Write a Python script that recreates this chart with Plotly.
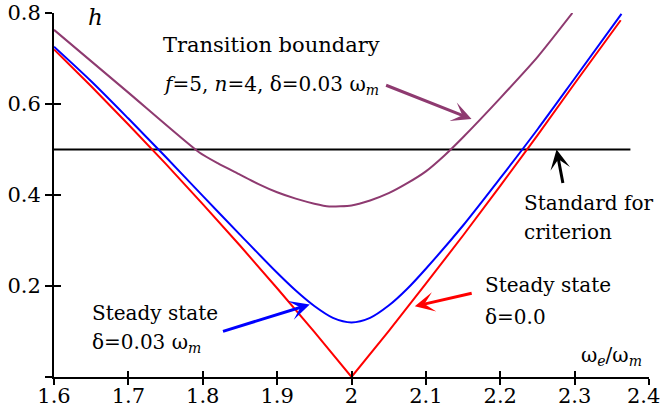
import plotly.graph_objects as go

# Frequency ratio omega_e / omega_m and amplitude h for each curve
x_steady0 = [1.6, 1.65, 1.7, 1.75, 1.8, 1.85, 1.9, 1.95, 2.0,
             2.05, 2.1, 2.15, 2.2, 2.25, 2.3, 2.362]
h_steady0 = [0.72, 0.639, 0.555, 0.469, 0.38, 0.289, 0.195, 0.099, 0.0,
             0.101, 0.205, 0.311, 0.42, 0.531, 0.645, 0.784]

x_steady3 = [1.6, 1.65, 1.7, 1.75, 1.8, 1.85, 1.9, 1.925, 1.95, 1.975, 2.0,
             2.025, 2.05, 2.075, 2.1, 2.15, 2.2, 2.25, 2.3, 2.363]
h_steady3 = [0.726, 0.650, 0.568, 0.484, 0.398, 0.313, 0.229, 0.190, 0.156, 0.130, 0.120,
             0.130, 0.157, 0.194, 0.238, 0.333, 0.437, 0.544, 0.656, 0.798]

x_transition = [1.6, 1.7, 1.795, 1.82, 1.85, 1.875, 1.9, 1.925, 1.95, 1.97, 2.0,
                2.025, 2.05, 2.075, 2.1, 2.125, 2.15, 2.2, 2.25, 2.297]
h_transition = [0.763, 0.625, 0.494, 0.470, 0.445, 0.424, 0.406, 0.392, 0.381, 0.375, 0.377,
                0.388, 0.404, 0.426, 0.452, 0.487, 0.527, 0.613, 0.703, 0.80]

x_standard = [1.6, 2.375]
h_standard = [0.5, 0.5]

x_ticks = [1.6, 1.7, 1.8, 1.9, 2.0, 2.1, 2.2, 2.3, 2.4]
x_ticktext = ["1.6", "1.7", "1.8", "1.9", "2", "2.1", "2.2", "2.3", ""]
y_ticks = [0.0, 0.2, 0.4, 0.6, 0.8]
y_ticktext = ["", "0.2", "0.4", "0.6", "0.8"]

RED = "#FF0000"
BLUE = "#0000FF"
PURPLE = "#8E3A70"
FONT = "DejaVu Serif"
TICK_SIZE = 21
TEXT_SIZE = 20

fig = go.Figure()
fig.add_trace(go.Scatter(x=x_standard, y=h_standard, mode="lines",
                         line=dict(color="black", width=2), hoverinfo="skip"))
fig.add_trace(go.Scatter(x=x_transition, y=h_transition, mode="lines",
                         line=dict(color=PURPLE, width=2, shape="spline", smoothing=0.6)))
fig.add_trace(go.Scatter(x=x_steady0, y=h_steady0, mode="lines",
                         line=dict(color=RED, width=2)))
fig.add_trace(go.Scatter(x=x_steady3, y=h_steady3, mode="lines",
                         line=dict(color=BLUE, width=2, shape="spline", smoothing=0.8)))
# empty trace that carries the overlaid axes used for inward tick marks
fig.add_trace(go.Scatter(x=[None], y=[None], xaxis="x2", yaxis="y2",
                         mode="lines", hoverinfo="skip"))

axis_common = dict(showgrid=False, zeroline=False, color="black",
                   tickwidth=2, tickcolor="black", automargin=False)

fig.update_layout(
    width=662, height=413,
    margin=dict(l=54, r=13, t=13, b=36, autoexpand=False),
    paper_bgcolor="white", plot_bgcolor="white",
    showlegend=False,
    font=dict(family=FONT, size=TICK_SIZE, color="black"),
    xaxis=dict(range=[1.6, 2.4], tickvals=x_ticks, ticktext=x_ticktext,
               ticks="outside", ticklen=6, showline=True, linewidth=2,
               linecolor="black", tickfont=dict(family=FONT, size=TICK_SIZE),
               ticklabelstandoff=-7, **axis_common),
    yaxis=dict(range=[0, 0.8], tickvals=y_ticks, ticktext=y_ticktext,
               ticks="outside", ticklen=7, showline=True, linewidth=2,
               linecolor="black", tickfont=dict(family=FONT, size=TICK_SIZE),
               **axis_common),
    xaxis2=dict(range=[1.6, 2.4], overlaying="x", anchor="y2", tickvals=x_ticks,
                ticks="inside", ticklen=6, showticklabels=False, showline=False,
                **axis_common),
    yaxis2=dict(range=[0, 0.8], overlaying="y", anchor="x2", tickvals=y_ticks,
                ticks="inside", ticklen=7, showticklabels=False, showline=False,
                **axis_common),
)


def label(x, y, text, xanchor="left", size=TEXT_SIZE, yanchor="middle", yshift=0):
    fig.add_annotation(x=x, y=y, xref="x", yref="y", text=text, showarrow=False,
                       xanchor=xanchor, yanchor=yanchor, yshift=yshift,
                       font=dict(size=size, family=FONT, color="black"))


def arrow(x_tail, y_tail, x_tip, y_tip, color):
    fig.add_annotation(x=x_tip, y=y_tip, ax=x_tail, ay=y_tail,
                       xref="x", yref="y", axref="x", ayref="y",
                       text="", showarrow=True, arrowhead=3, arrowsize=1.1,
                       arrowwidth=3, arrowcolor=color)


label(1.656, 0.792, "<i>h</i>", xanchor="center", size=23)
label(1.7435, 0.730, "Transition boundary", size=21)
label(1.7435, 0.6425, "<i>f</i>=5, <i>n</i>=4, δ=0.03 ω<sub><i>m</i></sub>")
label(2.229, 0.383, "Standard for")
label(2.229, 0.3196, "criterion")
label(1.648, 0.1416, "Steady state")
label(1.648, 0.0758, "δ=0.03 ω<sub><i>m</i></sub>")
label(2.177, 0.2032, "Steady state")
label(2.177, 0.1329, "δ=0.0")
label(2.393, 0.0457, "ω<sub><i>e</i></sub>/ω<sub><i>m</i></sub>", xanchor="right")
# last x tick label, kept inside the page edge
label(2.392, 0.0, "2.4", xanchor="center", yanchor="top", yshift=-5, size=TICK_SIZE)

arrow(2.0445, 0.6425, 2.1614, 0.567, PURPLE)
arrow(2.2846, 0.4229, 2.2757, 0.5, "black")
arrow(1.8252, 0.0993, 1.9439, 0.1593, BLUE)
arrow(2.1636, 0.185, 2.0851, 0.1555, RED)

fig.write_html("out.html")
